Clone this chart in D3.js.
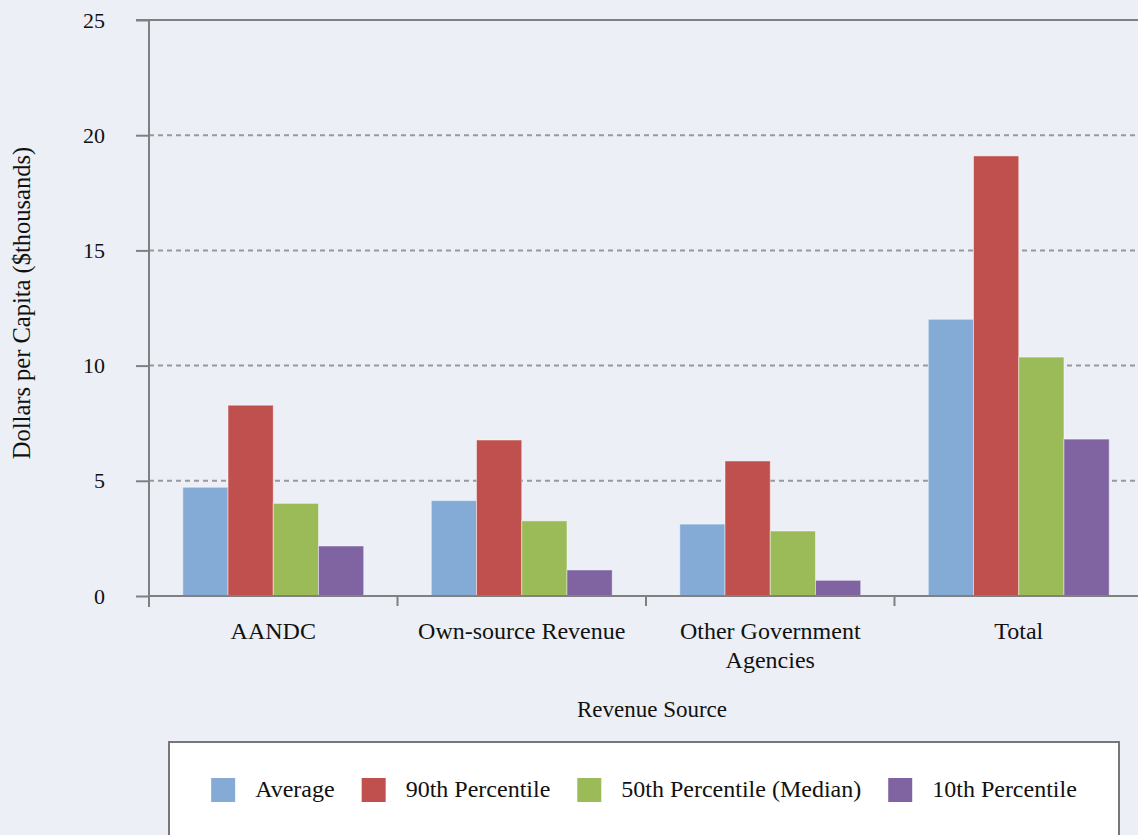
<!DOCTYPE html>
<html>
<head>
<meta charset="utf-8">
<script src="https://cdn.jsdelivr.net/npm/d3@7"></script>
<style>
  html, body { margin: 0; padding: 0; background: #ECEFF6; }
  svg { display: block; }
  svg text { font-family: "Liberation Serif", "DejaVu Serif", serif !important; fill: #111; }
</style>
</head>
<body>
<svg id="chart" width="1138" height="835"></svg>
<script>
const categories = ["AANDC", "Own-source Revenue", "Other Government\nAgencies", "Total"];
const seriesNames = ["Average", "90th Percentile", "50th Percentile (Median)", "10th Percentile"];
const average      = [4.72, 4.14, 3.12, 12.01];
const pct90        = [8.28, 6.77, 5.86, 19.10];
const pct50        = [4.02, 3.26, 2.82, 10.37];
const pct10        = [2.17, 1.13, 0.68, 6.81];
const yTicks = [0, 5, 10, 15, 20, 25];
const colors = ["#83ABD6", "#C0504D", "#9BBB59", "#8064A2"];

const seriesValues = [average, pct90, pct50, pct10];

const svg = d3.select("#chart");
const W = 1138, H = 835;
const pLeft = 149, pRight = 1143, pTop = 20, pBottom = 596;
const FONT = "'Liberation Serif', 'DejaVu Serif', serif";

svg.append("rect").attr("width", W).attr("height", H).attr("fill", "#ECEFF6");

const y = d3.scaleLinear().domain([0, 25]).range([pBottom, pTop]);
const x0 = d3.scaleBand().domain(categories).range([pLeft, pRight]).paddingInner(0).paddingOuter(0);
const bw = x0.bandwidth();
const gpad = bw * 0.136;
const x1 = d3.scaleBand().domain(seriesNames).range([gpad, bw - gpad]).padding(0);

// gridlines
svg.append("g").selectAll("line")
  .data(yTicks.filter(t => t > 0 && t < 25))
  .join("line")
  .attr("x1", pLeft).attr("x2", W)
  .attr("y1", d => y(d)).attr("y2", d => y(d))
  .attr("stroke", "#999")
  .attr("stroke-width", 2)
  .attr("stroke-dasharray", "5,4");

// bars
const groups = svg.append("g").selectAll("g")
  .data(categories)
  .join("g")
  .attr("transform", d => `translate(${x0(d)},0)`);

groups.selectAll("rect")
  .data((c, ci) => seriesNames.map((s, si) => ({ s, v: seriesValues[si][ci], si })))
  .join("rect")
  .attr("x", d => x1(d.s))
  .attr("width", x1.bandwidth())
  .attr("y", d => y(d.v))
  .attr("height", d => y(0) - y(d.v))
  .attr("fill", d => colors[d.si])
  .attr("stroke", "rgba(255,255,255,0.45)")
  .attr("stroke-width", 1);

// top border line
svg.append("line")
  .attr("x1", pLeft - 13).attr("x2", W)
  .attr("y1", y(25)).attr("y2", y(25))
  .attr("stroke", "#808080").attr("stroke-width", 2);

// y axis
const yAxis = d3.axisLeft(y).tickValues(yTicks).tickSize(13).tickPadding(31);
const gy = svg.append("g").attr("transform", `translate(${pLeft},0)`).call(yAxis)
  .attr("font-family", FONT);
gy.select(".domain").remove();
gy.selectAll(".tick line").attr("stroke", "#808080").attr("stroke-width", 2);
gy.selectAll(".tick text")
  .style("font-size", "22px")
  .attr("fill", "#111");

svg.append("line")
  .attr("x1", pLeft).attr("x2", pLeft)
  .attr("y1", pTop).attr("y2", pBottom + 11)
  .attr("stroke", "#808080").attr("stroke-width", 2);

// x axis baseline
svg.append("line")
  .attr("x1", pLeft).attr("x2", W)
  .attr("y1", pBottom).attr("y2", pBottom)
  .attr("stroke", "#808080").attr("stroke-width", 2);

// category boundary ticks
svg.append("g").selectAll("line")
  .data(categories.map(c => x0(c)).concat([x0(categories[categories.length - 1]) + bw]))
  .join("line")
  .attr("x1", d => d).attr("x2", d => d)
  .attr("y1", pBottom).attr("y2", pBottom + 10)
  .attr("stroke", "#808080").attr("stroke-width", 2);

// category labels
const cl = svg.append("g").selectAll("text")
  .data(categories)
  .join("text")
  .attr("x", d => x0(d) + bw / 2)
  .attr("y", 639)
  .attr("text-anchor", "middle")
  .style("font-size", "24px");
cl.each(function(d) {
  const lines = d.split("\n");
  const t = d3.select(this);
  lines.forEach((ln, i) => {
    t.append("tspan").attr("x", x0(d) + bw / 2).attr("dy", i === 0 ? 0 : 29).text(ln);
  });
});

// axis titles
svg.append("text")
  .attr("x", 652).attr("y", 717)
  .attr("text-anchor", "middle")
  .style("font-size", "23px")
  .text("Revenue Source");

svg.append("text")
  .attr("transform", "translate(30,303) rotate(-90)")
  .attr("text-anchor", "middle")
  .style("font-size", "24.5px")
  .text("Dollars per Capita ($thousands)");

// legend
const lgX = 169, lgY = 742, lgW = 950, lgH = 140;
svg.append("rect")
  .attr("x", lgX).attr("y", lgY).attr("width", lgW).attr("height", lgH)
  .attr("fill", "#fff").attr("stroke", "#777").attr("stroke-width", 2);

const lg = svg.append("g");
const items = lg.selectAll("g").data(seriesNames).join("g");
items.append("rect")
  .attr("width", 24).attr("height", 24)
  .attr("y", 778)
  .attr("fill", (d, i) => colors[i]);
items.append("text")
  .attr("x", 44).attr("y", 797)
  .style("font-size", "24px")
  .text(d => d);
let widths = [];
items.each(function() { widths.push(d3.select(this).select("text").node().getComputedTextLength()); });
const gap = 27;
const total = widths.reduce((a, w) => a + 44 + w, 0) + gap * (widths.length - 1);
let cx = lgX + lgW / 2 - total / 2;
items.each(function(d, i) {
  d3.select(this).attr("transform", `translate(${cx},0)`);
  cx += 44 + widths[i] + gap;
});
</script>
</body>
</html>
